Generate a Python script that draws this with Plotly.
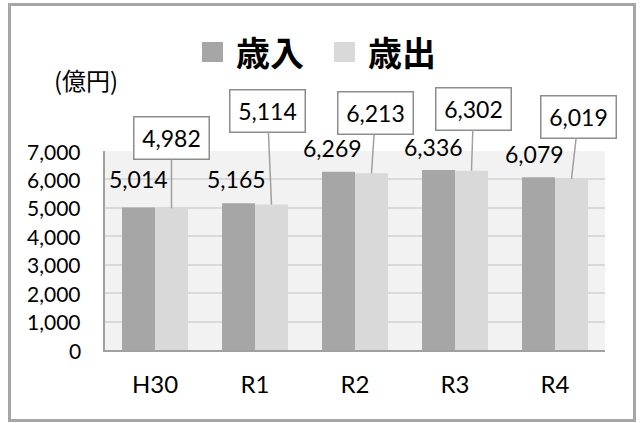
import plotly.graph_objects as go

# ---- data ----
categories = ["H30", "R1", "R2", "R3", "R4"]
revenue = [5014, 5165, 6269, 6336, 6079]      # 歳入
expenditure = [4982, 5114, 6213, 6302, 6019]  # 歳出
series_names = ["歳入", "歳出"]
y_ticks = [0, 1000, 2000, 3000, 4000, 5000, 6000, 7000]
unit_label = "(億円)"

# ---- layout constants (pixels) ----
W, H = 641, 423
ML, MR, MT, MB = 105, 36, 151, 73
PW, PH = W - ML - MR, H - MT - MB
C_DARK, C_LIGHT = "#a6a6a6", "#d9d9d9"
FONT = "Lato, 'Noto Sans CJK JP', sans-serif"
CJK = "'Noto Sans CJK JP', sans-serif"
BAR_GAP = 0.34
HALF = (1 - BAR_GAP) / 4  # offset of each bar centre from category centre

# label offsets (pixels) for manual Excel-style placement
rev_dx = [0, -2, -6, -5, -4]
rev_dy = [28, 24, 24, 23, 23]
exp_ax = [0, -4, 4, 2, 7]
exp_ay = [-70, -94, -60, -62, -62]


def px(x):
    return (x - ML) / PW


def py(y):
    return (H - MB - y) / PH


xs = list(range(len(categories)))
fig = go.Figure()
fig.add_trace(go.Bar(x=xs, y=revenue, name=series_names[0], marker_color=C_DARK,
                     marker_line_width=0))
fig.add_trace(go.Bar(x=xs, y=expenditure, name=series_names[1], marker_color=C_LIGHT,
                     marker_line_width=0))

ann = []
for i, v in enumerate(revenue):
    ann.append(dict(x=i - HALF, y=v, xref="x", yref="y", text=f"{v:,}", showarrow=False,
                    xshift=rev_dx[i], yshift=rev_dy[i], yanchor="middle",
                    font=dict(family=FONT, size=23, color="#000")))
for i, v in enumerate(expenditure):
    ann.append(dict(x=i + HALF, y=v, xref="x", yref="y", text=f"{v:,}", showarrow=True,
                    arrowhead=0, arrowwidth=1.5, arrowcolor="#a0a0a0",
                    ax=exp_ax[i], ay=exp_ay[i], axref="pixel", ayref="pixel",
                    width=66, height=33, borderpad=4, bordercolor="#8c8c8c", borderwidth=1.5,
                    bgcolor="#ffffff", standoff=0,
                    font=dict(family=FONT, size=23, color="#000")))

# y tick labels
for t in y_ticks:
    ann.append(dict(x=px(83), y=t, xref="paper", yref="y", text=f"{t:,}", showarrow=False,
                    xanchor="right", yanchor="middle",
                    font=dict(family=FONT, size=21, color="#000")))

# unit label
ann.append(dict(x=px(86), y=py(79), xref="paper", yref="paper", text=unit_label,
                showarrow=False, xanchor="center", yanchor="middle",
                font=dict(family=CJK, size=24, color="#000")))
# legend (drawn manually for large symbols)
leg = [(270, series_names[0]), (402, series_names[1])]
for cx, name in leg:
    ann.append(dict(x=px(cx), y=py(52), xref="paper", yref="paper", text=f"<b>{name}</b>",
                    showarrow=False, xanchor="center", yanchor="middle",
                    font=dict(family=CJK, size=34, color="#000")))

shapes = [
    dict(type="rect", xref="paper", yref="paper", x0=px(202), x1=px(223), y0=py(62), y1=py(42),
         fillcolor=C_DARK, line_width=0),
    dict(type="rect", xref="paper", yref="paper", x0=px(334), x1=px(355), y0=py(62), y1=py(42),
         fillcolor=C_LIGHT, line_width=0),
    dict(type="rect", xref="paper", yref="paper", x0=px(9.5), x1=px(634.5), y0=py(420.5), y1=py(4.5),
         line=dict(color="#a6a6a6", width=3), fillcolor="rgba(0,0,0,0)", layer="below"),
]

fig.update_layout(
    width=W, height=H, margin=dict(l=ML, r=MR, t=MT, b=MB),
    paper_bgcolor="#ffffff", plot_bgcolor="#f2f2f2",
    barmode="group", bargap=BAR_GAP, bargroupgap=0,
    showlegend=False, annotations=ann, shapes=shapes,
    font=dict(family=FONT, color="#000"),
)
fig.update_xaxes(range=[-0.5, len(categories) - 0.5], tickmode="array", tickvals=xs,
                 ticktext=categories, showgrid=False, zeroline=False, showline=True,
                 linecolor="#a0a0a0", linewidth=2, ticks="", ticklabelstandoff=12,
                 tickfont=dict(family=FONT, size=24, color="#000"), fixedrange=True)
fig.update_yaxes(range=[0, 7000], tickmode="array", tickvals=y_ticks, showticklabels=False,
                 showgrid=True, gridcolor="#d9d9d9", gridwidth=2, zeroline=False,
                 showline=True, linecolor="#a0a0a0", linewidth=2, ticks="",
                 fixedrange=True)

fig.write_html("out.html", config={"displayModeBar": False},
               post_script="document.body.style.margin='0';")
